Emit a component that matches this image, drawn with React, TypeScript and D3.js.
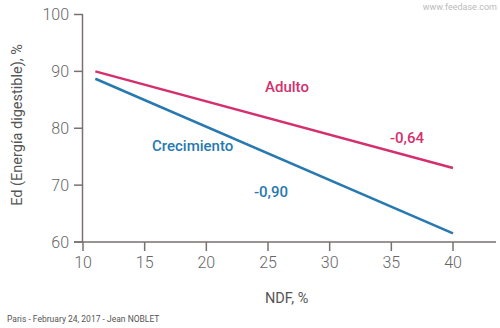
import React from "react";
import * as d3 from "d3";

const xTicks = [10, 15, 20, 25, 30, 35, 40];
const yTicks = [60, 70, 80, 90, 100];
const adultoX = [11, 40];
const adultoY = [90, 73];
const crecX = [11, 40];
const crecY = [88.7, 61.5];

const W = 500, H = 328;

export default function App() {
  const x = d3.scaleLinear().domain([10, 40]).range([83, 453]);
  const y = d3.scaleLinear().domain([60, 100]).range([242, 14.5]);
  const line = d3.line<[number, number]>().x(d => x(d[0])).y(d => y(d[1]));
  const adulto = adultoX.map((v, i) => [v, adultoY[i]] as [number, number]);
  const crec = crecX.map((v, i) => [v, crecY[i]] as [number, number]);
  const axisCol = "#7a7070";
  const tickCol = "#666";
  const pink = "#d4306e";
  const blue = "#2879b0";
  const font = "Roboto, 'Open Sans', sans-serif";
  return (
    <svg width={W} height={H} style={{ position: "absolute", left: 0, top: 0, background: "#fff" }} fontFamily={font}>
      <text x={497} y={10} textAnchor="end" fontSize={9} fill="#bbb">www.feedase.com</text>
      {/* y axis */}
      <line x1={x(10) - 0.5} x2={x(10) - 0.5} y1={y(100)} y2={y(60)} stroke={axisCol} strokeWidth={1.5} />
      {yTicks.map(t => (
        <g key={t}>
          <line x1={74} x2={x(10)} y1={y(t)} y2={y(t)} stroke={axisCol} strokeWidth={1.5} />
          <text x={69} y={y(t)} dy="0.35em" textAnchor="end" fontSize={16} fontWeight={300} fill={tickCol}>{t}</text>
        </g>
      ))}
      {/* x axis */}
      <line x1={74} x2={496} y1={y(60)} y2={y(60)} stroke={axisCol} strokeWidth={1.5} />
      {xTicks.map(t => (
        <g key={t}>
          <line x1={x(t)} x2={x(t)} y1={y(60)} y2={y(60) + 9} stroke={axisCol} strokeWidth={1.5} />
          <text x={x(t)} y={268} textAnchor="middle" fontSize={16} fontWeight={300} fill={tickCol}>{t}</text>
        </g>
      ))}
      <text x={265} y={303} fontSize={14.5} fill="#555">NDF, %</text>
      <text transform={`translate(22,125) rotate(-90)`} textAnchor="middle" fontSize={14.5} fill="#555">Ed (Energía digestible), %</text>
      <path d={line(adulto) || ""} fill="none" stroke={pink} strokeWidth={2.5} />
      <path d={line(crec) || ""} fill="none" stroke={blue} strokeWidth={2.5} />
      <text x={265} y={92} fontSize={15} fontWeight={500} fill={pink}>Adulto</text>
      <text x={390} y={143} fontSize={15} fontWeight={500} fill={pink}>-0,64</text>
      <text x={152} y={151} fontSize={15} fontWeight={500} fill={blue}>Crecimiento</text>
      <text x={254} y={197} fontSize={15} fontWeight={500} fill={blue}>-0,90</text>
      <text x={7} y={322} fontSize={8.5} fill="#555">Paris - February 24, 2017 - Jean NOBLET</text>
    </svg>
  );
}
